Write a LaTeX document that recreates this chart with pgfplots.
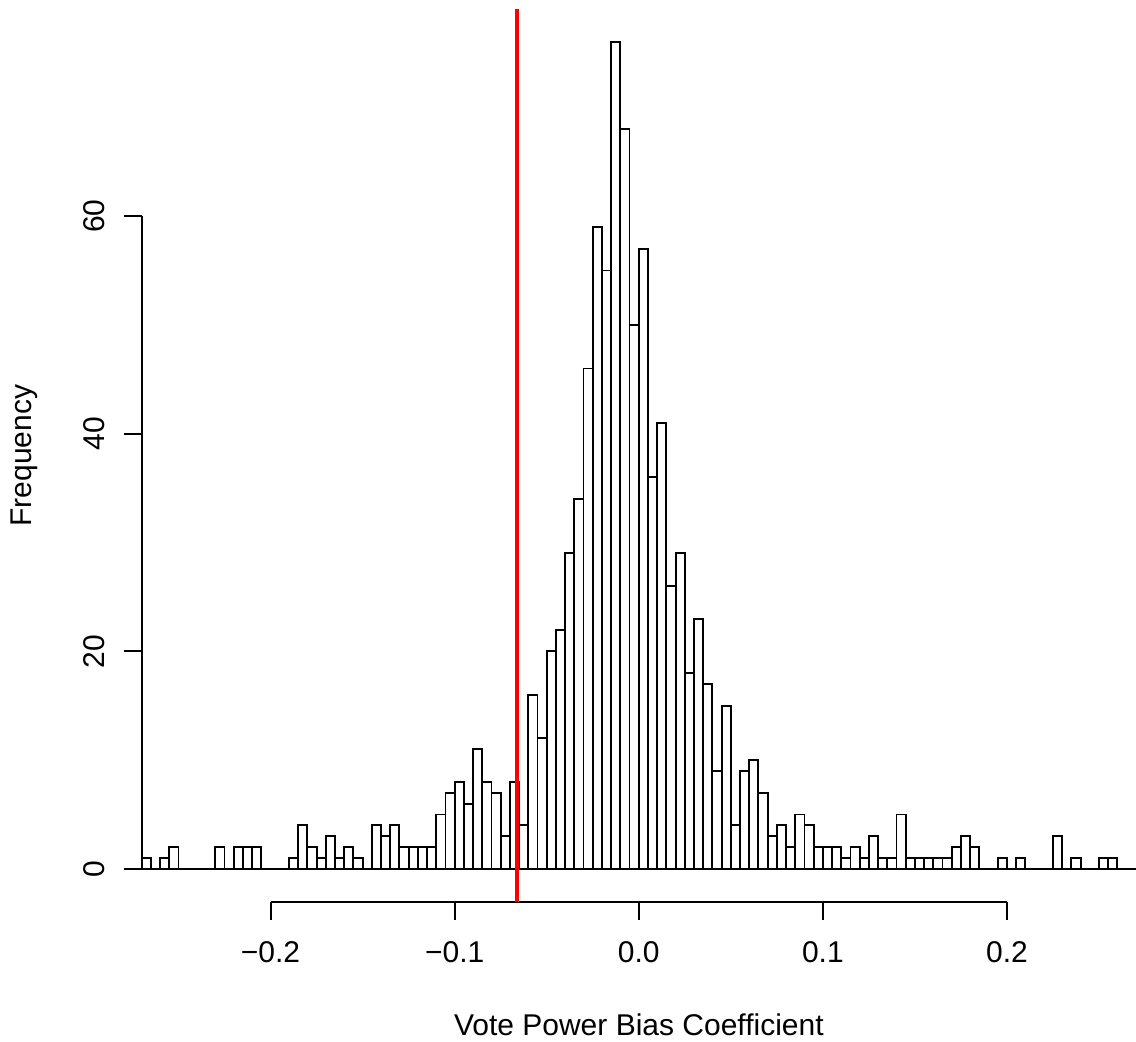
\documentclass[border=0pt]{standalone}
\usepackage{fontspec}
\setmainfont{Liberation Sans}
\usepackage{pgfplots}
\pgfplotsset{compat=1.18}
\usepackage{pgfplotstable}
\pgfplotstableread{
x y
-0.270 1
-0.265 0
-0.260 1
-0.255 2
-0.250 0
-0.245 0
-0.240 0
-0.235 0
-0.230 2
-0.225 0
-0.220 2
-0.215 2
-0.210 2
-0.205 0
-0.200 0
-0.195 0
-0.190 1
-0.185 4
-0.180 2
-0.175 1
-0.170 3
-0.165 1
-0.160 2
-0.155 1
-0.150 0
-0.145 4
-0.140 3
-0.135 4
-0.130 2
-0.125 2
-0.120 2
-0.115 2
-0.110 5
-0.105 7
-0.100 8
-0.095 6
-0.090 11
-0.085 8
-0.080 7
-0.075 3
-0.070 8
-0.065 4
-0.060 16
-0.055 12
-0.050 20
-0.045 22
-0.040 29
-0.035 34
-0.030 46
-0.025 59
-0.020 55
-0.015 76
-0.010 68
-0.005 50
0.000 57
0.005 36
0.010 41
0.015 26
0.020 29
0.025 18
0.030 23
0.035 17
0.040 9
0.045 15
0.050 4
0.055 9
0.060 10
0.065 7
0.070 3
0.075 4
0.080 2
0.085 5
0.090 4
0.095 2
0.100 2
0.105 2
0.110 1
0.115 2
0.120 1
0.125 3
0.130 1
0.135 1
0.140 5
0.145 1
0.150 1
0.155 1
0.160 1
0.165 1
0.170 2
0.175 3
0.180 2
0.185 0
0.190 0
0.195 1
0.200 0
0.205 1
0.210 0
0.215 0
0.220 0
0.225 3
0.230 0
0.235 1
0.240 0
0.245 0
0.250 1
0.255 1
0.260 1
}\histdata
\begin{document}
\begin{tikzpicture}
\begin{axis}[
  scale only axis,
  width=397.72pt, height=357.2pt,
  xmin=-0.27, xmax=0.2701,
  ymin=-3.04, ymax=79.04,
  axis line style={draw=none},
  tick align=outside,
  major tick length=7.1pt,
  tick style={black, line width=0.75pt},
  xtick pos=bottom, ytick pos=left,
  xtick={-0.2,-0.1,0,0.1,0.2},
  xticklabels={−0.2,−0.1,0.0,0.1,0.2},
  ytick={0,20,40,60},
  yticklabels={0,20,40,60},
  tick label style={font=\fontsize{12}{14}\selectfont},
  xticklabel style={anchor=north, yshift=-5pt},
  yticklabel style={rotate=90, anchor=south, yshift=4pt},
  label style={font=\fontsize{12}{14}\selectfont},
  xlabel={Vote Power Bias Coefficient},
  ylabel={Frequency},
  xlabel style={at={(axis description cs:0.5,-0.1377)}, anchor=center},
  ylabel style={at={(axis description cs:-0.1185,0.5)}, anchor=center},
  clip=false,
]
\addplot[ybar interval, fill=white, draw=black, line width=0.75pt] table[x=x,y=y] {\histdata};
\draw[black, line width=0.75pt] (axis cs:-0.27,0) -- (axis cs:0.2701,0);
\draw[black, line width=0.75pt] (axis cs:-0.27,0) -- (axis cs:-0.27,60);
\draw[black, line width=0.75pt] (axis cs:-0.2,-3.04) -- (axis cs:0.2,-3.04);
\addplot[red, line width=1.5pt] coordinates {(-0.0662,-3.04) (-0.0662,79.04)};
\coordinate (bl) at (axis description cs:-0.14251,-0.15677);
\coordinate (tr) at (axis description cs:1,1.01008);
\end{axis}
\pgfresetboundingbox
\path[use as bounding box] (bl) rectangle (tr);
\end{tikzpicture}
\end{document}
